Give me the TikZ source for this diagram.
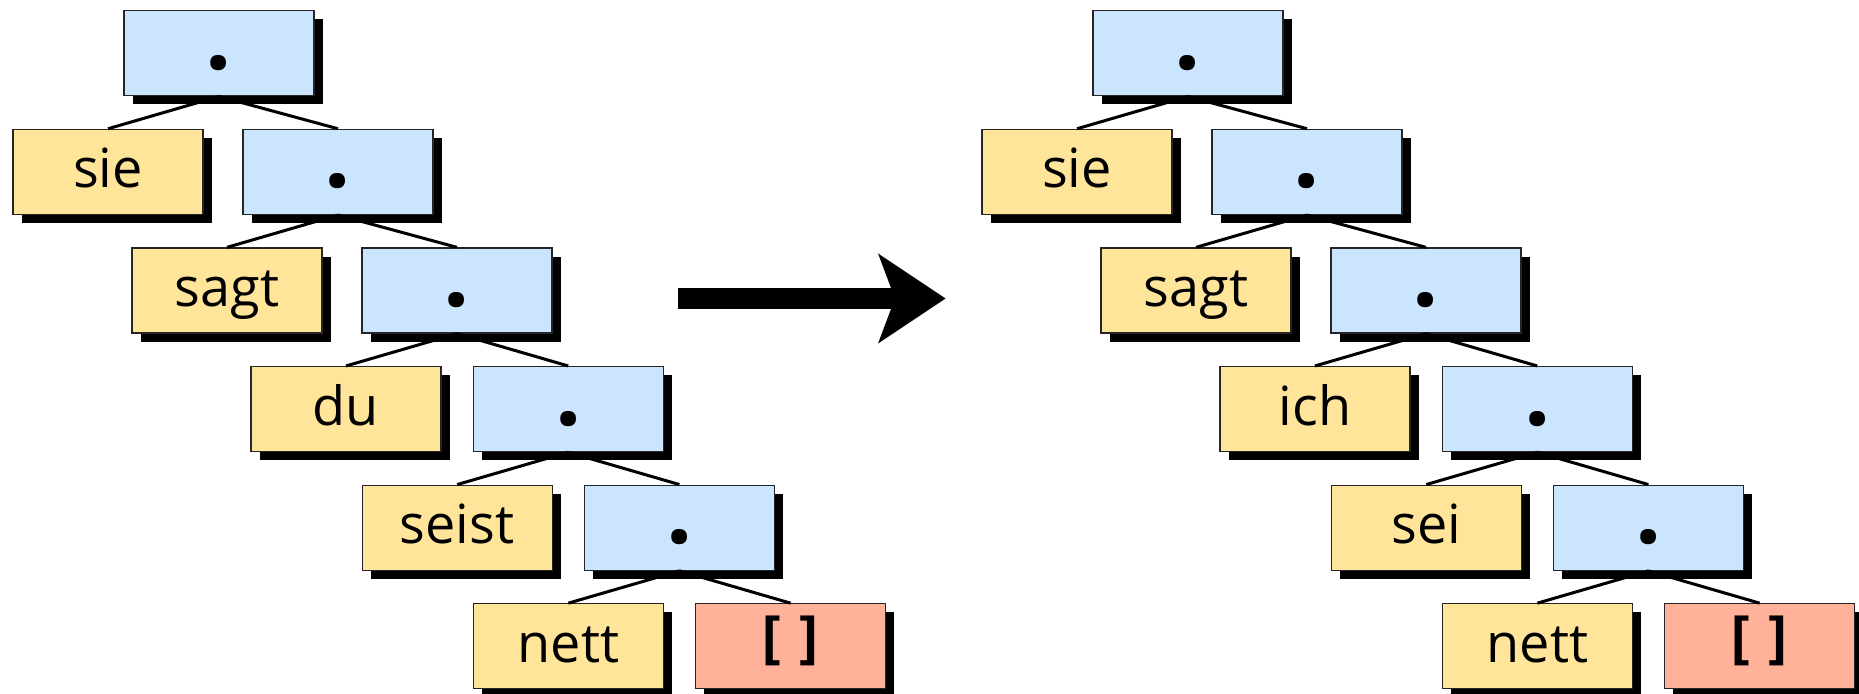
\documentclass[tikz,border=0pt]{standalone}
\usepackage{fontspec}
\setmainfont{Open Sans}
\newfontfamily\codefont{DejaVu Sans Mono}
\usetikzlibrary{trees,shadows,arrows.meta}
\definecolor{pairblue}{RGB}{204,229,255}
\definecolor{wordyellow}{RGB}{255,229,153}
\definecolor{nilred}{RGB}{255,177,153}
\tikzset{
box/.style={draw=black!85, line width=0.65pt, minimum width=95pt, minimum height=42.5pt, inner sep=0pt, text height=20pt, text depth=4pt, drop shadow={shadow xshift=4.25pt, shadow yshift=-4.25pt, fill=black, opacity=1}},
word/.style={box, fill=wordyellow, font=\fontsize{27}{32}\selectfont},
pair/.style={box, fill=pairblue, font=\fontsize{46}{50}\selectfont\bfseries},
nil/.style={box, fill=nilred, font=\fontsize{28}{32}\codefont\bfseries},
split/.style 2 args={grow via three points={one child at (0,-59.3pt) and two children at (-#1,-59.3pt) and (#2,-59.3pt)}}
}

\begin{document}
\begin{tikzpicture}[level 1/.style={split={55.5pt}{59.5pt}},level 3/.style={split={55.5pt}{55.6pt}},edge from parent/.style={draw, line width=1.5pt},edge from parent path={(\tikzparentnode.south) -- (\tikzchildnode.north)}]
\useasboundingbox (0,0) rectangle (929.5pt,346.5pt);
\node[pair] (l0) at (109.5pt,319.85pt) {.}
child { node[word] (lsie) {sie} }
child { node[pair] (l1) {.}
child { node[word] (lsagt) {sagt} }
child { node[pair] (l2) {.}
child { node[word] (ldu) {du} }
child { node[pair] (l3) {.}
child { node[word] (lseist) {seist} }
child { node[pair] (l4) {.}
child { node[word] (lnett) {nett} }
child { node[nil] (lnil) {\raisebox{2pt}{[\hspace{2pt}]}} } } } } };
\coordinate (from) at (339.15pt,197.25pt);
\coordinate (to) at (472.85pt,197.25pt);
\draw[line width=10.5pt, -{Stealth[length=33.35pt, width=43.85pt, inset=8pt]}] (from) -- (to);
\node[pair] (r0) at (594pt,319.85pt) {.}
child { node[word] (rsie) {sie} }
child { node[pair] (r1) {.}
child { node[word] (rsagt) {sagt} }
child { node[pair] (r2) {.}
child { node[word] (rich) {ich} }
child { node[pair] (r3) {.}
child { node[word] (rsei) {sei} }
child { node[pair] (r4) {.}
child { node[word] (rnett) {nett} }
child { node[nil] (rnil) {\raisebox{2pt}{[\hspace{2pt}]}} } } } } };
\end{tikzpicture}
\end{document}
